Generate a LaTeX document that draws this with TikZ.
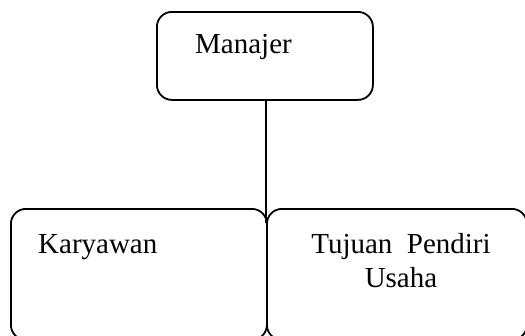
\documentclass[tikz,border=0pt]{standalone}
\usepackage{fontspec}
\setmainfont{Liberation Serif}
\begin{document}
\begin{tikzpicture}[x=1pt,y=-1pt,
  box/.style={draw,line width=1.8pt,rounded corners=15pt,inner sep=0pt,anchor=north west},
  lbl/.style={font=\fontsize{29}{34}\selectfont,inner sep=0pt},
  conn/.style={line width=1.8pt}]
\useasboundingbox (0,0) rectangle (525,335);
\begin{scope}
\clip (0,0) rectangle (525,335);
\node[box,minimum width=216pt,minimum height=88pt] (man) at (156,11) {};
\node[box,minimum width=256pt,minimum height=131pt] (kar) at (10,208) {};
\node[box,minimum width=260pt,minimum height=131pt] (tuj) at (266,208) {};
\coordinate (join) at (266,223);
\draw[conn] (man.south -| join) -- (join);
\end{scope}
\node[lbl,anchor=base west] (tman) at (195,53) {Manajer};
\node[lbl,anchor=base west] (tkar) at (38,253) {Karyawan};
\node[lbl,anchor=base,align=center] (ttuj) at (401,287) {Tujuan\ \ Pendiri\\Usaha};
\end{tikzpicture}
\end{document}
